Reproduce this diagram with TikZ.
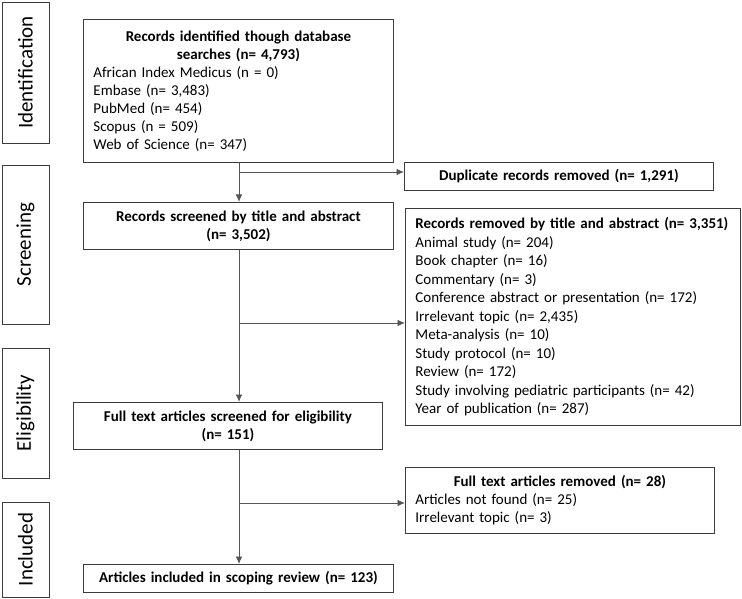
\documentclass[tikz,border=0pt]{standalone}
\usepackage{fontspec}
\setmainfont{Carlito}
\usepackage{tikz}
\usetikzlibrary{arrows.meta}
\definecolor{box_gray}{RGB}{60,60,60}
\definecolor{line_gray}{RGB}{85,85,85}

\begin{document}
\begin{tikzpicture}[->,>={Latex[length=7.5pt,width=6.5pt]},x=1pt,y=-1pt,line width=0.9pt]
    \tikzstyle{box}=[draw=box_gray, rectangle, anchor=north west, inner xsep=10pt, inner ysep=0pt,
        font=\fontsize{15}{18}\selectfont, text=black]
    \tikzstyle{bbox}=[style=box, align=center, font=\fontsize{15}{18}\selectfont\bfseries]
    \tikzstyle{stage}=[draw=box_gray, rectangle, rotate=90, minimum height=47pt, inner sep=0pt,
        font=\fontsize{21}{24}\selectfont, text=black]
    \useasboundingbox (0,0) rectangle (742,599);

    \node[stage, minimum width=141pt] (id) at (25.5,72.5)  {Identification};
    \node[stage, minimum width=159pt] (sc) at (25.5,244.5) {Screening};
    \node[stage, minimum width=130pt] (el) at (25.5,413)   {Eligibility};
    \node[stage, minimum width=95pt]  (in) at (25.5,549.5) {Included};

    \node[box, text width=290pt, minimum height=143pt] (db) at (83,19)
        {{\centering\bfseries Records identified though database\\ searches (n= 4,793)\par}
         African Index Medicus (n = 0)\\ Embase (n= 3,483)\\ PubMed (n= 454)\\
         Scopus (n = 509)\\ Web of Science (n= 347)};
    \node[bbox, text width=290pt, minimum height=47pt] (scr) at (83,202)
        {Records screened by title and abstract\\ (n= 3,502)};
    \node[bbox, text width=289pt, minimum height=47pt] (ft) at (73,402)
        {Full text articles screened for eligibility\\ (n= 151)};
    \node[bbox, text width=290pt, minimum height=28pt] (inc) at (83,564)
        {Articles included in scoping review (n= 123)};

    \node[bbox, text width=289pt, minimum height=28pt] (dup) at (404,162)
        {Duplicate records removed (n= 1,291)};
    \node[box, text width=315pt, minimum height=217pt, align=left, font=\fontsize{15}{18.5}\selectfont] (rem) at (405,208)
        {\textbf{Records removed by title and abstract (n= 3,351)}\\ Animal study (n= 204)\\
         Book chapter (n= 16)\\ Commentary (n= 3)\\ Conference abstract or presentation (n= 172)\\
         Irrelevant topic (n= 2,435)\\ Meta-analysis (n= 10)\\ Study protocol (n= 10)\\
         Review (n= 172)\\ Study involving pediatric participants (n= 42)\\ Year of publication (n= 287)};
    \node[box, text width=289pt, minimum height=66pt] (ftr) at (405,467)
        {{\centering\bfseries Full text articles removed (n= 28)\par}
         Articles not found (n= 25)\\ Irrelevant topic (n= 3)};

    \coordinate (j1) at (239,172);
    \coordinate (j2) at (239,323);
    \coordinate (j3) at (239,503);

    \path[line_gray]
     (j1 |- db.south)  edge (j1 |- scr.north)
     (j1)              edge (j1 -| dup.west)
     (j2 |- scr.south) edge (j2 |- ft.north)
     (j2)              edge (j2 -| rem.west)
     (j3 |- ft.south)  edge (j3 |- inc.north)
     (j3)              edge (j3 -| ftr.west)
     ;
\end{tikzpicture}
\end{document}
